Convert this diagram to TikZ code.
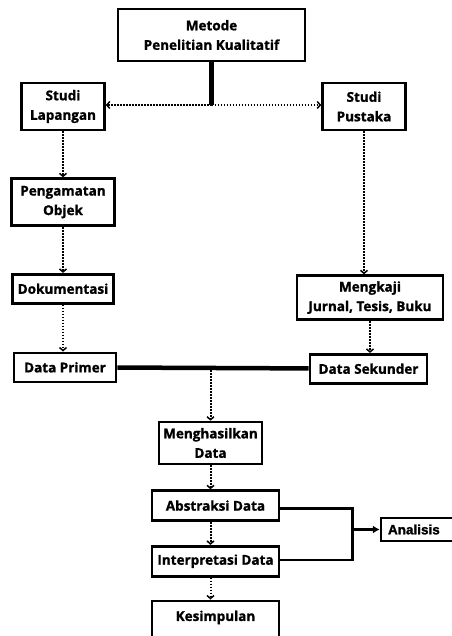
\documentclass[tikz,border=0pt]{standalone}
\usepackage{fontspec}
\setmainfont{Open Sans}[BoldFeatures={FakeBold=1.2}]
\newfontfamily\analisisfont{Liberation Sans}[BoldFeatures={FakeBold=1.5}]
\usetikzlibrary{arrows.meta, positioning, calc}

\begin{document}
\begin{tikzpicture}[
  x=1pt, y=1pt,
  box/.style={draw, line width=2.6pt, inner sep=0pt, align=center,
    minimum width=#1, font=\fontsize{13.5}{19.5}\selectfont\bfseries},
  box/.default=100pt,
  dotarr/.style={-{Straight Barb[length=3pt,width=7pt,line width=1.5pt]},
    line width=2pt, dash pattern=on 1.6pt off 1.4pt},
  heavy/.style={line width=4.5pt},
  solidarr/.style={-{Latex[length=7pt,width=8pt]}, line width=2.4pt}
]
\useasboundingbox (0,0) rectangle (451,-636);

% top
\node[box=187pt, minimum height=52pt] (metode) at (211.5,-35) {Metode\\Penelitian Kualitatif};
\node[box=83pt, minimum height=47pt] (lapangan) at (63,-106.5) {Studi\\Lapangan};
\node[box=83pt, minimum height=47pt] (pustaka) at (364,-106.5) {Studi\\Pustaka};

% left column
\node[box=103pt, minimum height=47pt, below=46pt of lapangan] (objek) {Pengamatan\\Objek};
\node[box=101pt, minimum height=29pt, below=46pt of objek] (dokumentasi) {Dokumentasi};
\node[box=102pt, minimum height=29pt, below=47pt of dokumentasi, xshift=2pt] (primer) {Data Primer};

% right column
\node[box=146pt, minimum height=44pt, below=143pt of pustaka, xshift=6pt] (kajian) {Mengkaji\\Jurnal, Tesis, Buku};
\node[box=117pt, minimum height=29pt, below=32pt of kajian, xshift=-1.5pt] (sekunder) {Data Sekunder};

% middle column
\node[box=103pt, minimum height=42pt] (hasil) at (210.5,-443) {Menghasilkan\\Data};
\node[box=127pt, minimum height=30pt, below=24pt of hasil, xshift=5pt] (abstraksi) {Abstraksi Data};
\node[box=127pt, minimum height=30pt, below=23pt of abstraksi] (interpretasi) {Interpretasi Data};
\node[box=127pt, minimum height=44pt, below=22pt of interpretasi, text depth=14pt] (kesimpulan) {Kesimpulan};
\node[box=80pt, minimum height=23pt, line width=2.4pt, font=\analisisfont\fontsize{13.5}{15}\selectfont\bfseries,
  text width=66pt, align=left] (analisis) at (421,-529.5) {Analisis};

% connectors
\coordinate (split) at (metode.south |- 0,-105);
\draw[heavy] (metode.south) -- (split);
\draw[dotarr] (split) -- (lapangan.east |- split);
\draw[dotarr] (split) -- (pustaka.west |- split);
\draw[dotarr] (lapangan) -- (objek);
\draw[dotarr] (objek) -- (dokumentasi);
\draw[dotarr] (dokumentasi.south) -- (dokumentasi.south |- primer.north);
\draw[dotarr] (pustaka.south) -- (pustaka.south |- kajian.north);
\draw[dotarr] (kajian.south) -- (kajian.south |- sekunder.north);
\draw[heavy] (primer) -- (sekunder);
\draw[dotarr] (hasil.north |- primer.east) -- (hasil);
\draw[dotarr] (hasil.south) -- (hasil.south |- abstraksi.north);
\draw[dotarr] (hasil.south |- abstraksi.south) -- (hasil.south |- interpretasi.north);
\draw[dotarr] (hasil.south |- interpretasi.south) -- (hasil.south |- kesimpulan.north);

\coordinate (merge) at ($(abstraksi.east)+(72,-3)$);
\draw[line width=2.4pt] ($(abstraksi.east)+(0,-3)$) -| (merge) |- ($(interpretasi.east)+(0,1)$);
\draw[solidarr] (merge |- analisis) -- (analisis);
\end{tikzpicture}
\end{document}
